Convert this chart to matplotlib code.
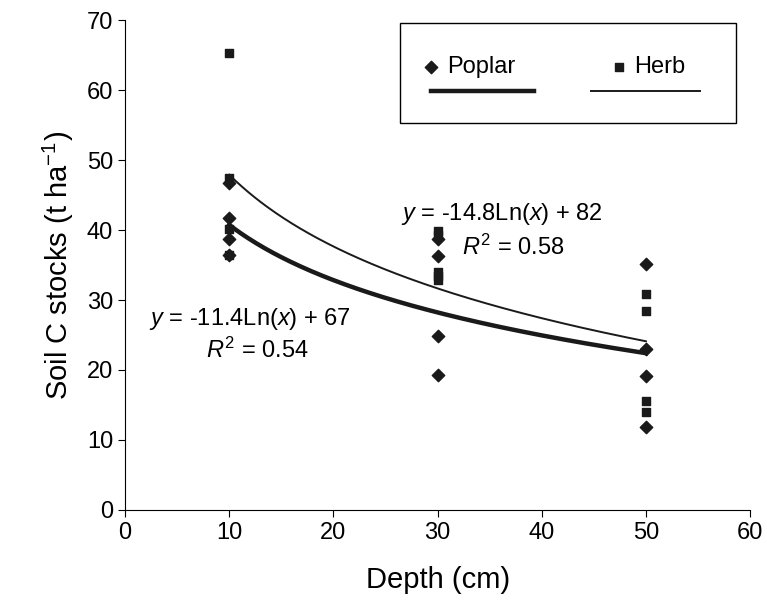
import numpy as np
import matplotlib.pyplot as plt

plt.rcParams['font.family'] = ['Liberation Sans', 'DejaVu Sans']
plt.rcParams['mathtext.fontset'] = 'custom'
plt.rcParams['mathtext.it'] = 'Liberation Sans:italic'
plt.rcParams['mathtext.rm'] = 'Liberation Sans'

poplar_x = [10, 10, 10, 10, 30, 30, 30, 30, 50, 50, 50, 50]
poplar_y = [46.8, 41.8, 38.7, 36.5, 38.7, 36.3, 24.8, 19.3, 35.2, 23.0, 19.2, 11.8]
herb_x = [10, 10, 10, 10, 30, 30, 30, 30, 30, 50, 50, 50, 50]
herb_y = [65.3, 47.5, 40.2, 36.5, 39.8, 39.3, 34.0, 33.5, 32.8, 30.8, 28.4, 15.5, 14.0]
poplar_fit = (-11.4, 67)
herb_fit = (-14.8, 82)

fig = plt.figure(figsize=(7.67, 6.15), dpi=100)
ax = fig.add_axes([0.163, 0.171, 0.815, 0.796])
xs = np.linspace(10, 50, 200)
ax.plot(xs, poplar_fit[0] * np.log(xs) + poplar_fit[1], color='#1a1a1a', lw=3.2)
ax.plot(xs, herb_fit[0] * np.log(xs) + herb_fit[1], color='#1a1a1a', lw=1.4)
ax.scatter(poplar_x, poplar_y, marker='D', s=40, color='#1a1a1a', zorder=3)
ax.scatter(herb_x, herb_y, marker='s', s=40, color='#1a1a1a', zorder=3)

ax.set_xlim(0, 60)
ax.set_ylim(0, 70)
ax.set_xticks(range(0, 61, 10))
ax.set_yticks(range(0, 71, 10))
ax.tick_params(labelsize=17, direction='out', length=5)
for s in ['top', 'right']:
    ax.spines[s].set_visible(False)
ax.set_xlabel('Depth (cm)', fontsize=21, labelpad=16)
ax.set_ylabel('Soil C stocks (t ha$^{-1}$)', fontsize=21, labelpad=8)

ax.text(26.5, 41.5, '$y$ = -14.8Ln($x$) + 82', fontsize=17)
ax.text(32.3, 36.4, '$R^2$ = 0.58', fontsize=17)
ax.text(2.3, 26.5, '$y$ = -11.4Ln($x$) + 67', fontsize=17)
ax.text(7.8, 21.7, '$R^2$ = 0.54', fontsize=17)

# legend box drawn by hand (marker + label above, line below)
t = ax.transAxes
ax.add_patch(plt.Rectangle((0.44, 0.79), 0.537, 0.205, transform=t,
                           facecolor='white', edgecolor='black', lw=1, zorder=4))
ax.scatter([0.49], [0.905], marker='D', s=40, color='#1a1a1a', transform=t, zorder=5)
ax.text(0.515, 0.905, 'Poplar', fontsize=17, va='center', transform=t, zorder=5)
ax.plot([0.49, 0.655], [0.855, 0.855], color='#1a1a1a', lw=3.2, transform=t, zorder=5)
ax.scatter([0.79], [0.905], marker='s', s=30, color='#1a1a1a', transform=t, zorder=5)
ax.text(0.815, 0.905, 'Herb', fontsize=17, va='center', transform=t, zorder=5)
ax.plot([0.745, 0.92], [0.855, 0.855], color='#1a1a1a', lw=1.4, transform=t, zorder=5)

fig.savefig('out.png', dpi=100)
